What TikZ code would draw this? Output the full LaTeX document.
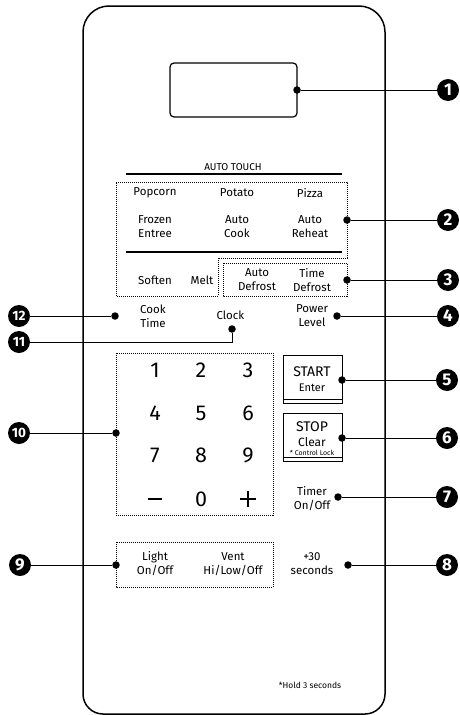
\documentclass[tikz,border=0pt]{standalone}
\usepackage{fontspec}
\setmainfont{Fira Sans}
\usepackage{tikz}
\usetikzlibrary{positioning}
\tikzset{
  panel/.style={line width=1.5pt},
  badge/.style={circle, fill=black, text=white, inner sep=0pt,
    minimum size=22pt, font=\bfseries\fontsize{17}{17}\selectfont},
  smallbadge/.style={badge, font=\bfseries\fontsize{13.5}{13.5}\selectfont},
  hotdot/.style={circle, fill=black, inner sep=0pt, minimum size=7.5pt},
  dotbox/.style={draw, line width=0.8pt, dash pattern=on 1pt off 1pt},
  keytext/.style={align=center, inner sep=0pt,
    font=\fontsize{11.5}{14}\selectfont},
  digit/.style={inner sep=0pt, font=\fontsize{21.5}{21.5}\selectfont},
  lead/.style={line width=1pt},
}

\begin{document}
\begin{tikzpicture}[x=1pt, y=-1pt]
  \useasboundingbox (0,0) rectangle (460,715);

  \draw[panel] (83,360) [rounded corners=26pt] -- (83,6) -- (385,6) -- (385,360);
  \draw[panel] (83,360) [rounded corners=20pt] -- (83,714) -- (385,714) -- (385,360);

  \node[draw, line width=1.2pt, rounded corners=4pt,
        minimum width=127pt, minimum height=54pt] (display) at (233.5,90) {};

  \node[inner sep=0pt, font=\fontsize{10}{10}\selectfont] (autotouch) at (233,167) {AUTO TOUCH};
  \draw[line width=2pt] (126,174) -- (342,174);
  \draw[line width=2pt] (126,252) -- (342,252);
  \draw[dotbox] (116,182) -- (347,182) -- (347,258) -- (218,258)
    -- (218,296) -- (116,296) -- cycle;
  \draw[dotbox] (223,263) rectangle (347,296);

  \foreach \nm/\x/\y/\word in {
    popcorn/155/193/Popcorn, potato/237/193/Potato, pizza/310/193/Pizza,
    soften/155/280/Soften, melt/202/280/Melt, clock/232/315/Clock
  }{
    \node[keytext] (\nm) at (\x,\y) {\word};
  }
  \foreach \nm/\x/\y/\lineA/\lineB in {
    frozen/155/227/Frozen/Entree, autocook/237/227/Auto/Cook,
    reheat/310/227/Auto/Reheat,
    autodef/257/280/Auto/Defrost, timedef/312/280/Time/Defrost,
    cooktime/153/316/Cook/Time, power/312/316/Power/Level,
    timer/312/499/Timer/On\slash Off,
    light/155/564/Light/On\slash Off, vent/233/564/Vent/Hi\slash Low\slash Off,
    plus30/312/564/+30/seconds
  }{
    \node[keytext] (\nm) at (\x,\y) {\lineA\\\lineB};
  }

  \draw[dotbox] (116,353) rectangle (273,515);
  \foreach \k/\x/\y in {
    1/155/370, 2/201/370, 3/248/370,
    4/155/413, 5/201/413, 6/248/413,
    7/155/455, 8/201/455, 9/248/455, 0/201/499
  }{
    \node[digit] (key\k) at (\x,\y) {\k};
  }
  \node[inner sep=0pt] (keyminus) at (155,499) {\rule{14pt}{1.7pt}};
  \node[inner sep=0pt, minimum size=15pt] (keyplus) at (248,499) {};
  \draw[line width=1.5pt] (keyplus.north) -- (keyplus.south)
    (keyplus.west) -- (keyplus.east);

  \draw[dotbox] (116,542) rectangle (273,587);

  \node[draw, line width=1pt, minimum width=59pt, minimum height=48pt] (start) at (312.5,379) {};
  \draw[line width=1pt] ([yshift=4pt]start.south west) -- ([yshift=4pt]start.south east);
  \node[inner sep=0pt, font=\fontsize{14}{14}\selectfont] (starttxt) at (312,372) {START};
  \node[inner sep=0pt, font=\fontsize{11}{11}\selectfont] (entertxt) at (312,388) {Enter};

  \node[draw, line width=1pt, minimum width=59pt, minimum height=48pt] (stop) at (312.5,437) {};
  \draw[line width=1pt] ([yshift=4pt]stop.south west) -- ([yshift=4pt]stop.south east);
  \node[inner sep=0pt, font=\fontsize{14}{14}\selectfont] (stoptxt) at (312,427) {STOP};
  \node[inner sep=0pt, font=\fontsize{12}{12}\selectfont] (cleartxt) at (312,442) {Clear};
  \node[inner sep=0pt, font=\fontsize{7}{7}\selectfont] (locktxt) at (312,453) {* Control Lock};

  \node[inner sep=0pt, font=\fontsize{8.5}{8.5}\selectfont] (hold) at (310,685) {*Hold 3 seconds};

  \foreach \nm/\x/\y in {
    1/297/90, 2/347/220, 3/347/280, 4/337/316, 5/342/380, 6/342/438,
    7/338/497, 8/348/565, 9/116/565, 10/116/433, 11/232/329, 12/115/316
  }{
    \node[hotdot] (d\nm) at (\x,\y) {};
  }
  \foreach \nm/\x/\y in {
    1/448/90, 2/448/220, 3/448/280, 4/448/316, 5/447/380, 6/447/438,
    7/447/497, 8/447/565, 9/20/565
  }{
    \node[badge] (b\nm) at (\x,\y) {\nm};
  }
  \foreach \nm/\x/\y in {10/19/433, 11/19/342, 12/19/316}{
    \node[smallbadge] (b\nm) at (\x,\y) {\nm};
  }

  \foreach \nm in {1,2,3,4,5,6,7,8,9,10,12}{
    \draw[lead] (d\nm) -- (b\nm);
  }
  \draw[lead] (d11) |- (b11);
\end{tikzpicture}
\end{document}
